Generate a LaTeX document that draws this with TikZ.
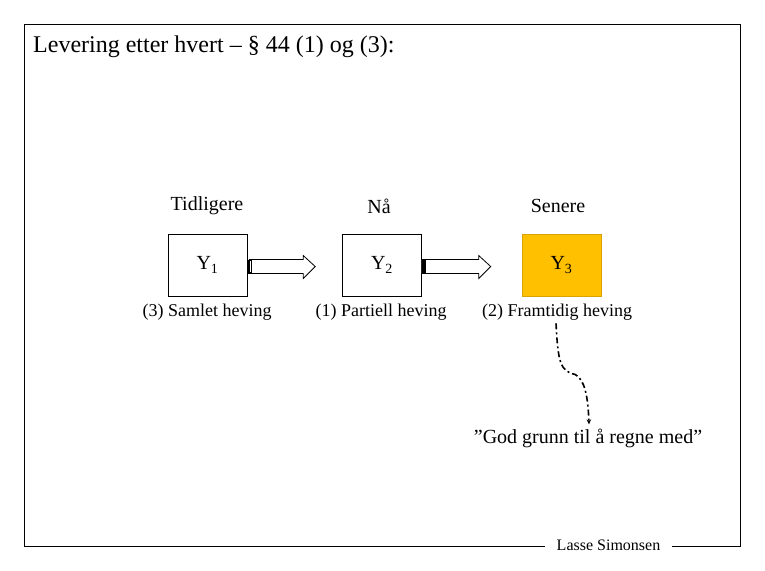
\documentclass[tikz,border=0pt]{standalone}
\usepackage{fontspec}
\setmainfont{Liberation Serif}
\usetikzlibrary{calc,arrows.meta}
\definecolor{boxorange}{HTML}{FFC000}
\tikzset{
  ybox/.style={draw=black, minimum width=79pt, minimum height=62pt, inner sep=0pt, font=\fontsize{20}{22}\selectfont},
  lbl/.style={inner sep=1pt, font=\fontsize{18}{20}\selectfont},
  head/.style={inner sep=1pt, font=\fontsize{20}{22}\selectfont},
  blockarrow/.style={draw=black, fill=white, line width=0.8pt},
  frameline/.style={draw=black, line width=0.9pt},
}
\begin{document}
\begin{tikzpicture}[x=1pt,y=-1pt]
\useasboundingbox (0,0) rectangle (765,570);
% frame
\draw[frameline] (545,546) -- (24,546) -- (24,24) -- (740,24) -- (740,546) -- (672,546);
\node[anchor=base west, inner sep=0pt, font=\fontsize{24}{26}\selectfont] (title) at (33,52) {Levering etter hvert – § 44 (1) og (3):};
\node[inner sep=0pt, font=\fontsize{16}{18}\selectfont] (author) at (608.5,545) {Lasse Simonsen};
% headings
\node[head] (h1) at (207,206) {Tidligere};
\node[head] (h2) at (379,206) {Nå};
\node[head] (h3) at (558,206) {Senere};
% boxes
\node[ybox] (y1) at (207.5,265) {Y\textsubscript{1}};
\node[ybox] (y2) at (382,265) {Y\textsubscript{2}};
\node[ybox, fill=boxorange, draw=boxorange!85!black] (y3) at (561.5,265) {Y\textsubscript{3}};
% labels
\node[lbl] (l1) at (207,312) {(3) Samlet heving};
\node[lbl] (l2) at (381,312) {(1) Partiell heving};
\node[lbl] (l3) at (557,312) {(2) Framtidig heving};
\node[head] (q) at (588,438) {”God grunn til å regne med”};
% block arrows
\draw[blockarrow] ($(y1.east)+(2,-5.5)$) -- ($(y1.east)+(56,-5.5)$) -- ($(y1.east)+(56,-9.5)$) -- ($(y1.east)+(68,1.5)$) -- ($(y1.east)+(56,13.5)$) -- ($(y1.east)+(56,8.5)$) -- ($(y1.east)+(2,8.5)$) -- cycle;
\fill[black] ($(y1.east)+(1,-5.5)$) rectangle ($(y1.east)+(5,8.5)$);
\fill[white] ($(y1.east)+(2.6,-4)$) rectangle ($(y1.east)+(3.4,7)$);
\draw[blockarrow] ($(y2.east)+(0,-5.5)$) -- ($(y2.east)+(57,-5.5)$) -- ($(y2.east)+(57,-9.5)$) -- ($(y2.east)+(69,1.5)$) -- ($(y2.east)+(57,13.5)$) -- ($(y2.east)+(57,8.5)$) -- ($(y2.east)+(0,8.5)$) -- cycle;
\fill[black] ($(y2.east)+(0,-5.5)$) rectangle ($(y2.east)+(4,8.5)$);
% dash-dotted curve
\draw[line width=1.6pt, dash pattern=on 6pt off 3pt on 2pt off 3pt, -{Stealth[length=5pt,width=4.5pt]}]
  ($(l3.south)+(-1,2)$) .. controls ($(l3.south)+(1,40)$) and ($(l3.south)+(3,50)$) .. ($(l3.south)+(18,53)$)
  .. controls ($(l3.south)+(28,58)$) and ($(q.north)+(0,-30)$) .. ($(q.north)+(1,-3)$);
\end{tikzpicture}
\end{document}
